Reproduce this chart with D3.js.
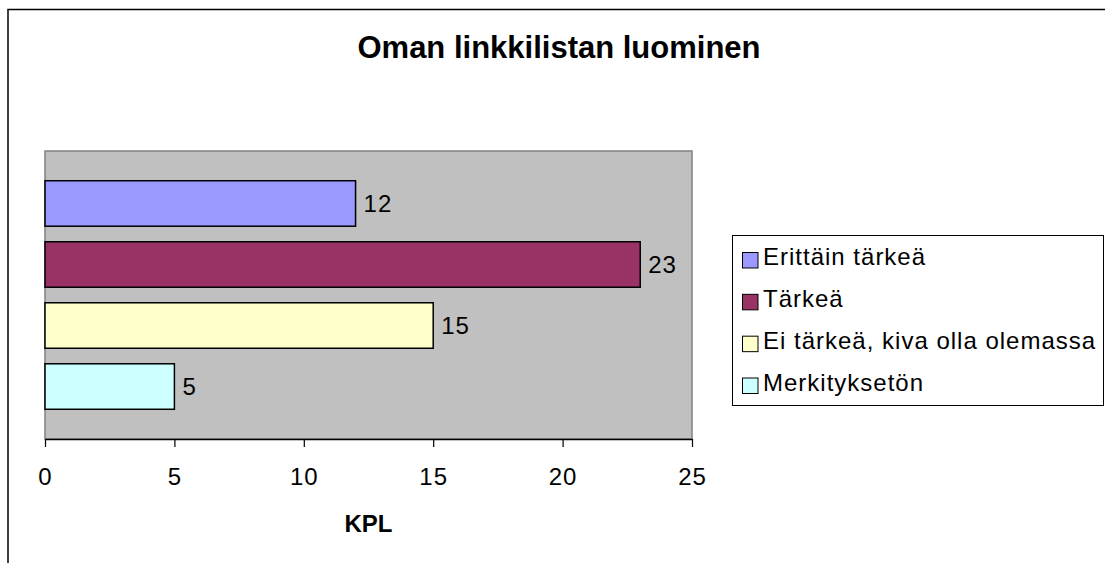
<!DOCTYPE html>
<html>
<head>
<meta charset="utf-8">
<script src="https://cdn.jsdelivr.net/npm/d3@7"></script>
<style>
  html, body { margin: 0; padding: 0; background: #fff; overflow: hidden; }
  svg { display: block; }
  text { font-family: "Liberation Sans", Arial, sans-serif; fill: #000; }
</style>
</head>
<body>
<svg id="chart" width="1105" height="563"></svg>
<script>
const title = "Oman linkkilistan luominen";
const axisTitle = "KPL";
const series = ["Erittäin tärkeä", "Tärkeä", "Ei tärkeä, kiva olla olemassa", "Merkityksetön"];
const values = [12, 23, 15, 5];
const colors = ["#9999FF", "#993366", "#FFFFCC", "#CCFFFF"];
const xTicks = [0, 5, 10, 15, 20, 25];

const svg = d3.select("#chart");
const plot = { left: 45, right: 692, top: 151, bottom: 439 };

// outer chart frame
svg.append("rect")
  .attr("x", 8).attr("y", 9.5)
  .attr("width", 1200).attr("height", 700)
  .attr("fill", "#fff").attr("stroke", "#000").attr("stroke-width", 1.5);

// title
svg.append("text")
  .attr("x", 559).attr("y", 58)
  .attr("text-anchor", "middle")
  .style("font-size", "31px").style("font-weight", "bold")
  .text(title);

const x = d3.scaleLinear().domain([0, 25]).range([plot.left, plot.right]);
const y = d3.scaleBand().domain(series).range([plot.top, plot.bottom])
  .paddingInner(0.23).paddingOuter(0.475);

// plot area
svg.append("rect")
  .attr("x", plot.left).attr("y", plot.top)
  .attr("width", plot.right - plot.left).attr("height", plot.bottom - plot.top)
  .attr("fill", "#C0C0C0").attr("stroke", "#808080").attr("stroke-width", 1.5);

// bars
svg.selectAll("rect.bar").data(series).enter().append("rect")
  .attr("class", "bar")
  .attr("x", x(0))
  .attr("y", d => y(d) + 0.75)
  .attr("width", (d, i) => x(values[i]) - x(0))
  .attr("height", y.bandwidth() - 1.5)
  .attr("fill", (d, i) => colors[i])
  .attr("stroke", "#000").attr("stroke-width", 1.5);

// value labels
svg.selectAll("text.val").data(series).enter().append("text")
  .attr("class", "val")
  .attr("x", (d, i) => x(values[i]) + 8)
  .attr("y", d => y(d) + y.bandwidth() / 2)
  .attr("dy", "0.35em")
  .style("font-size", "24px").style("letter-spacing", "1px")
  .text((d, i) => values[i]);

// x axis
const axis = svg.append("g")
  .attr("transform", `translate(0,${plot.bottom})`)
  .call(d3.axisBottom(x).tickValues(xTicks).tickSize(8).tickPadding(21).tickSizeOuter(0));
axis.select(".domain").attr("stroke", "#000").attr("stroke-width", 1.5);
axis.selectAll(".tick line").attr("stroke", "#000").attr("stroke-width", 1.2);
axis.selectAll(".tick text")
  .style("font-size", "24px").style("letter-spacing", "1px")
  .style("font-family", "'Liberation Sans', Arial, sans-serif")
  .attr("fill", "#000");

// axis title
svg.append("text")
  .attr("x", (plot.left + plot.right) / 2).attr("y", 532)
  .attr("text-anchor", "middle")
  .style("font-size", "24px").style("font-weight", "bold")
  .text(axisTitle);

// legend
const legend = svg.append("g");
legend.append("rect")
  .attr("x", 732.5).attr("y", 235.5).attr("width", 371).attr("height", 170)
  .attr("fill", "#fff").attr("stroke", "#000").attr("stroke-width", 1);
const ly = d3.scalePoint().domain(series).range([260, 385.5]);
legend.selectAll("rect.sw").data(series).enter().append("rect")
  .attr("class", "sw")
  .attr("x", 742.5).attr("y", d => ly(d) - 7.5)
  .attr("width", 15.5).attr("height", 15.5)
  .attr("fill", (d, i) => colors[i])
  .attr("stroke", "#000").attr("stroke-width", 1);
legend.selectAll("text.lg").data(series).enter().append("text")
  .attr("class", "lg")
  .attr("x", 763).attr("y", d => ly(d) + 5)
  .style("font-size", "24px").style("letter-spacing", "1px")
  .text(d => d);
</script>
</body>
</html>
